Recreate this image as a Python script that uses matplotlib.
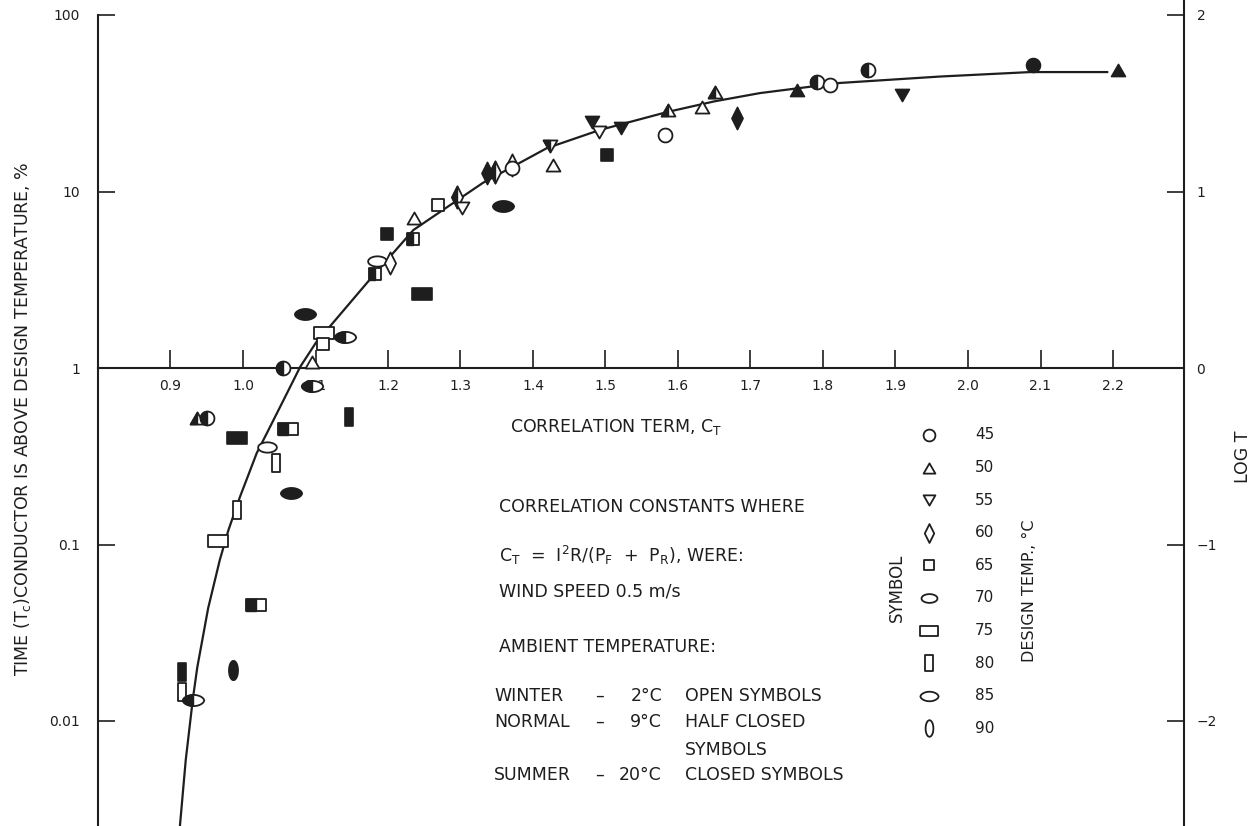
import numpy as np
import matplotlib
matplotlib.use("Agg")
import matplotlib.pyplot as plt
from matplotlib.path import Path

plt.rcParams['font.family'] = ['DejaVu Sans']
plt.rcParams['mathtext.fontset'] = 'dejavusans'

# ---------------- data ----------------
# correlation term C_T, time above design temperature (%), design temp (°C), ambient (W=winter/open, N=normal/half, S=summer/closed)
ct = [0.937, 0.950, 0.992, 1.062, 1.146, 1.033, 1.045, 1.066, 0.992, 0.966,
      1.018, 0.986, 0.916, 0.916, 0.931, 1.086, 1.112, 1.110, 1.141, 1.055,
      1.095, 1.095, 1.247, 1.199, 1.236, 1.234, 1.185, 1.182, 1.203, 1.269,
      1.295, 1.302, 1.359, 1.337, 1.348, 1.371, 1.371, 1.423, 1.428, 1.481,
      1.491, 1.521, 1.502, 1.582, 1.586, 1.633, 1.651, 1.681, 1.764, 1.792,
      1.810, 1.862, 1.909, 2.090, 2.207]
pct = [0.52, 0.52, 0.40, 0.45, 0.53, 0.356, 0.29, 0.195, 0.156, 0.105,
       0.0456, 0.0195, 0.019, 0.0146, 0.0132, 2.03, 1.58, 1.37, 1.5, 1.0,
       1.08, 0.79, 2.63, 5.77, 7.1, 5.4, 4.05, 3.42, 3.95, 8.4,
       9.25, 8.1, 8.3, 12.8, 12.9, 14.1, 13.6, 18.2, 14.1, 24.7,
       21.6, 22.8, 16.0, 20.8, 28.9, 30.0, 36.5, 26.0, 37.5, 41.6,
       40.0, 48.7, 35.0, 52.0, 48.7]
design_temp = [50, 45, 75, 75, 80, 70, 80, 85, 80, 75,
               75, 90, 80, 80, 85, 85, 75, 65, 85, 45,
               50, 85, 75, 65, 50, 65, 70, 65, 60, 65,
               60, 55, 85, 60, 60, 60, 45, 55, 50, 55,
               55, 55, 65, 45, 50, 50, 50, 60, 50, 45,
               45, 45, 55, 45, 50]
ambient = ['N', 'N', 'S', 'N', 'S', 'W', 'W', 'S', 'W', 'W',
           'N', 'S', 'S', 'W', 'N', 'S', 'W', 'W', 'N', 'N',
           'W', 'N', 'S', 'S', 'W', 'N', 'W', 'N', 'W', 'W',
           'N', 'W', 'S', 'S', 'N', 'W', 'W', 'N', 'W', 'S',
           'W', 'S', 'S', 'W', 'N', 'W', 'N', 'S', 'S', 'N',
           'W', 'N', 'S', 'S', 'S']

# fitted correlation curve
curve_ct = [0.913, 0.921, 0.931, 0.937, 0.952, 0.968, 0.980, 0.996, 1.019, 1.033,
            1.056, 1.079, 1.101, 1.124, 1.172, 1.235, 1.331, 1.419, 1.492, 1.585,
            1.650, 1.713, 1.823, 1.961, 2.086, 2.192]
curve_pct = [0.00254, 0.0060, 0.0135, 0.0202, 0.0437, 0.0817, 0.121, 0.187, 0.330, 0.428,
             0.659, 1.017, 1.40, 1.80, 3.07, 6.05, 11.2, 17.6, 22.3, 28.2,
             32.4, 36.1, 41.2, 44.8, 47.5, 47.5]

x_ticks = [0.9, 1.0, 1.1, 1.2, 1.3, 1.4, 1.5, 1.6, 1.7, 1.8, 1.9, 2.0, 2.1, 2.2]
x_ticklabels = ['0.9', '1.0', '1.1', '1.2', '1.3', '1.4', '1.5', '1.6', '1.7', '1.8', '1.9', '2.0', '2.1', '2.2']
y_ticks = [100, 10, 1, 0.1, 0.01]
y_ticklabels = ['100', '10', '1', '0.1', '0.01']
logt_ticks = [2, 1, 0, -1, -2]
logt_ticklabels = ['2', '1', '0', '\u22121', '\u22122']
legend_temps = [45, 50, 55, 60, 65, 70, 75, 80, 85, 90]

# ---------------- marker shapes ----------------
def ellipse(a, b, n=48):
    t = np.linspace(0, 2 * np.pi, n, endpoint=False)
    return np.column_stack([a * np.cos(t), b * np.sin(t)])

def lens(h, n=31):
    x = np.linspace(-1, 1, n)
    yy = h * np.clip(1 - x ** 2, 0, None) ** 0.6
    top = np.column_stack([x, yy])
    bot = np.column_stack([x[::-1][1:-1], -yy[::-1][1:-1]])
    return np.vstack([top, bot])

SHAPES = {
    45: (ellipse(1, 1), 10.0),
    50: (np.array([[0, 0.87], [-1, -0.87], [1, -0.87]]), 10.0),
    55: (np.array([[0, -0.87], [1, 0.87], [-1, 0.87]]), 10.0),
    60: (np.array([[0, 1], [0.5, 0], [0, -1], [-0.5, 0]]), 16.0),
    65: (np.array([[-1, -1], [1, -1], [1, 1], [-1, 1]]), 8.5),
    70: (ellipse(1, 0.55), 13.5),
    75: (np.array([[-1, -0.55], [1, -0.55], [1, 0.55], [-1, 0.55]]), 14.5),
    80: (np.array([[-0.45, -1], [0.45, -1], [0.45, 1], [-0.45, 1]]), 13.5),
    85: (lens(0.52), 15.5),
    90: (ellipse(0.47, 1), 14.0),
}

def clip_left(verts):
    out = []
    n = len(verts)
    for i in range(n):
        cur = verts[i]
        prev = verts[i - 1]
        cin = cur[0] <= 1e-12
        pin = prev[0] <= 1e-12
        if cin:
            if not pin:
                t = prev[0] / (prev[0] - cur[0])
                out.append([0.0, prev[1] + t * (cur[1] - prev[1])])
            out.append(list(cur))
        elif pin:
            t = prev[0] / (prev[0] - cur[0])
            out.append([0.0, prev[1] + t * (cur[1] - prev[1])])
    return np.array(out)

def to_path(verts):
    v = np.vstack([verts, verts[:1]])
    return Path(v, closed=True)

INK = '#1e1e1e'

def draw_marker(ax, x, y, temp, amb, scale=1.0, **kw):
    verts, ms = SHAPES[temp]
    ms = ms * scale
    full = to_path(verts)
    if amb == 'S':
        ax.plot([x], [y], ls='none', marker=full, ms=ms, mfc=INK, mec=INK, mew=1.2, zorder=4, **kw)
    else:
        ax.plot([x], [y], ls='none', marker=full, ms=ms, mfc='white', mec=INK, mew=1.3, zorder=4, **kw)
        if amb == 'N':
            half = to_path(clip_left(verts))
            ax.plot([x], [y], ls='none', marker=half, ms=ms, mfc=INK, mec=INK, mew=1.0, zorder=5, **kw)

# ---------------- figure ----------------
W, H = 1259, 826
fig = plt.figure(figsize=(W / 100, H / 100), dpi=100)
px_left, px_right = 98, 1184
ax = fig.add_axes([px_left / W, 0, (px_right - px_left) / W, 1])
ax.set_yscale('log')
x_per_px = 1 / 725.0
ax.set_xlim(1.0 - (243 - px_left) * x_per_px, 1.0 + (px_right - 243) * x_per_px)
dec = 176.5
ylo, yhi = 10 ** ((368 - H) / dec), 10 ** (368 / dec)
ax.set_ylim(ylo, yhi)

for s in ['top', 'right']:
    ax.spines[s].set_visible(False)
ax.spines['bottom'].set_position(('data', 1))
ax.spines['left'].set_bounds(ylo, 100)
for s in ['bottom', 'left']:
    ax.spines[s].set_linewidth(1.5)
    ax.spines[s].set_color(INK)

ax.set_xticks(x_ticks)
ax.set_xticklabels(x_ticklabels)
ax.tick_params(axis='x', direction='in', length=13, width=1.2, color=INK, pad=8,
               labelsize=10, labelcolor=INK)
ax.set_yticks(y_ticks)
ax.set_yticklabels(y_ticklabels)
ax.yaxis.set_minor_locator(matplotlib.ticker.NullLocator())
ax.tick_params(axis='y', which='major', direction='in', length=12, width=1.2, color=INK,
               pad=13, labelsize=10, labelcolor=INK)
ax.patch.set_alpha(0)

ax2 = ax.twinx()
ax2.set_ylim(np.log10(ylo), np.log10(yhi))
for s in ['top', 'bottom', 'left']:
    ax2.spines[s].set_visible(False)
ax2.spines['right'].set_linewidth(1.5)
ax2.spines['right'].set_color(INK)
ax2.set_yticks(logt_ticks)
ax2.set_yticklabels(logt_ticklabels)
ax2.tick_params(axis='y', direction='in', length=12, width=1.2, color=INK, pad=9,
                labelsize=10, labelcolor=INK)

# curve
ax.plot(curve_ct, curve_pct, color=INK, lw=1.6, zorder=3, solid_joinstyle='round')

# data points
for x, y, t, a in zip(ct, pct, design_temp, ambient):
    draw_marker(ax, x, y, t, a)

# legend of symbols
for i, t in enumerate(legend_temps):
    ypx = 435 + i * 32.6
    yf = 1 - ypx / H
    xf = (929 - px_left) / (px_right - px_left)
    draw_marker(ax, xf, yf, t, 'W', scale=0.85, transform=ax.transAxes, clip_on=False)
    fig.text(975 / W, yf, str(t), fontsize=11, color=INK, va='center', ha='left')

fig.text(897 / W, 1 - 588 / H, 'SYMBOL', rotation=90, fontsize=12, color=INK, va='center', ha='center')
fig.text(1029 / W, 1 - 591 / H, 'DESIGN TEMP., °C', rotation=90, fontsize=11.5, color=INK,
         va='center', ha='center')

# axis titles
fig.text(23 / W, 1 - 419 / H, 'TIME (T$_\\mathrm{c}$)CONDUCTOR IS ABOVE DESIGN TEMPERATURE, %',
         rotation=90, fontsize=12.5, color=INK, va='center', ha='center')
fig.text(1243 / W, 1 - 457 / H, 'LOG T', rotation=90, fontsize=12.5, color=INK, va='center', ha='center')

def ftext(xpx, ypx, s, **kw):
    kw.setdefault('fontsize', 12.5)
    kw.setdefault('color', INK)
    kw.setdefault('va', 'center')
    kw.setdefault('ha', 'left')
    fig.text(xpx / W, 1 - ypx / H, s, **kw)

ftext(510, 427, 'CORRELATION TERM, C$_\\mathrm{T}$')
ftext(499, 507, 'CORRELATION CONSTANTS WHERE')
ftext(499, 555, 'C$_\\mathrm{T}$  =  I$^\\mathrm{2}$R/(P$_\\mathrm{F}$  +  P$_\\mathrm{R}$), WERE:')
ftext(499, 592, 'WIND SPEED 0.5 m/s')
ftext(499, 647, 'AMBIENT TEMPERATURE:')
rows = [(696, 'WINTER', '2°C', 'OPEN SYMBOLS'),
        (722, 'NORMAL', '9°C', 'HALF CLOSED'),
        (775, 'SUMMER', '20°C', 'CLOSED SYMBOLS')]
for ypx, name, temp, desc in rows:
    ftext(494, ypx, name)
    ftext(600, ypx, '\u2013', ha='center')
    ftext(662, ypx, temp, ha='right')
    ftext(685, ypx, desc)
ftext(685, 750, 'SYMBOLS')

fig.savefig('out.png', dpi=100, facecolor='white')
